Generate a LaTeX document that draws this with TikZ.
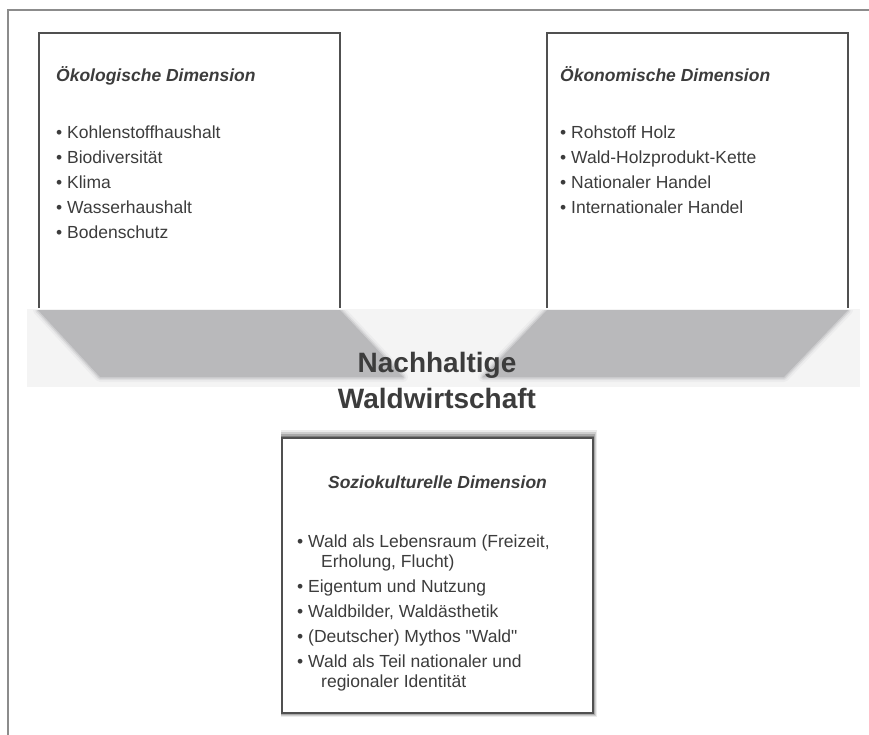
\documentclass[tikz,border=0pt]{standalone}
\usepackage{fontspec}
\setmainfont{Liberation Sans}
\usepackage{xcolor}
\definecolor{txtGray}{RGB}{60,60,60}
\definecolor{lineGray}{RGB}{80,80,80}
\definecolor{frameGray}{RGB}{140,140,140}
\definecolor{bandGray}{RGB}{185,185,187}
\definecolor{bandBg}{RGB}{244,244,244}
\usetikzlibrary{positioning, backgrounds}
\tikzstyle{dimbox} = [inner sep=0pt, minimum width=301, minimum height=275]
\tikzstyle{title} = [anchor=base west, inner sep=0pt, text=txtGray, font=\fontsize{17.5}{20}\selectfont\bfseries\itshape]
\tikzstyle{list} = [anchor=north west, inner sep=0pt, align=left, text=txtGray, font=\fontsize{17.5}{20}\selectfont]
\tikzstyle{band} = [fill=bandGray]
\newcommand{\itm}{\textbullet\ }

\begin{document}
\begin{tikzpicture}[x=1pt, y=-1pt]
        \useasboundingbox (0,0) rectangle (869,735);
        % outer frame, only top and left visible
        \draw [frameGray, line width=1.8pt] (8,735) |- (869,10);

        % the three dimensions
        \node [dimbox] (oekoBox) at (189.5,170.5) {};
        \node [dimbox] (oekonBox) at (697.5,170.5) {};
        \node [dimbox, minimum width=311] (soziBox) at (437.5,575.5) {};

        % band below the two upper boxes
        \fill [bandBg] (27,309) rectangle (860,387);
        \begin{scope}
            \clip (27,310) rectangle (869,390);
            \foreach \w/\o in {10/0.12, 6/0.25, 3/0.45} {
                \draw [bandGray, line width=\w pt, opacity=\o, line join=round] (38,310) -- (340,310) -- (403,377) -- (100,377) -- cycle;
                \draw [bandGray, line width=\w pt, opacity=\o, line join=round] (547,310) -- (848,310) -- (784,377) -- (483,377) -- cycle;
            }
            \fill [band] (38,310) -- (340,310) -- (403,377) -- (100,377) -- cycle;
            \fill [band] (547,310) -- (848,310) -- (784,377) -- (483,377) -- cycle;
        \end{scope}

        \draw [lineGray, line width=1.6pt] (oekoBox.south west) |- (oekoBox.north) -| (oekoBox.south east);
        \draw [lineGray, line width=1.6pt] (oekonBox.south west) |- (oekonBox.north) -| (oekonBox.south east);

        % shadow of the lower box
        \foreach \d/\o in {8/0.08, 6/0.12, 4/0.18, 2/0.25} {
            \fill [black, opacity=\o] ([xshift=-1pt, yshift=\d pt]soziBox.north west) rectangle ([xshift=\d/2 pt, yshift=-\d/2 pt]soziBox.south east);
        }
        \fill [white] (soziBox.north west) rectangle (soziBox.south east);
        \draw [lineGray, line width=1.6pt] (soziBox.north west) rectangle (soziBox.south east);

        \node [title] (oekoTitle) at (56,82) {Ökologische Dimension};
        \node [list] (oekoList) at (56,125.2) {\itm Kohlenstoffhaushalt\\[5pt]\itm Biodiversität\\[5pt]\itm Klima\\[5pt]\itm Wasserhaushalt\\[5pt]\itm Bodenschutz};

        \node [title] (oekonTitle) at (560,82) {Ökonomische Dimension};
        \node [list] (oekonList) at (560,125.2) {\itm Rohstoff Holz\\[5pt]\itm Wald-Holzprodukt-Kette\\[5pt]\itm Nationaler Handel\\[5pt]\itm Internationaler Handel};

        \node [anchor=north, inner sep=0pt, align=center, text=txtGray, font=\fontsize{28}{36}\selectfont\bfseries] (nachhaltig) at (437,351.6) {Nachhaltige\\Waldwirtschaft};

        \node [title, anchor=base] (soziTitle) at (437.5,488) {Soziokulturelle Dimension};
        \node [list] (soziList) at (297,534.2) {\itm Wald als Lebensraum (Freizeit,\\\hspace*{24pt}Erholung, Flucht)\\[5pt]\itm Eigentum und Nutzung\\[5pt]\itm Waldbilder, Waldästhetik\\[5pt]\itm (Deutscher) Mythos \textquotedbl Wald\textquotedbl\\[5pt]\itm Wald als Teil nationaler und\\\hspace*{24pt}regionaler Identität};
\end{tikzpicture}
\end{document}
